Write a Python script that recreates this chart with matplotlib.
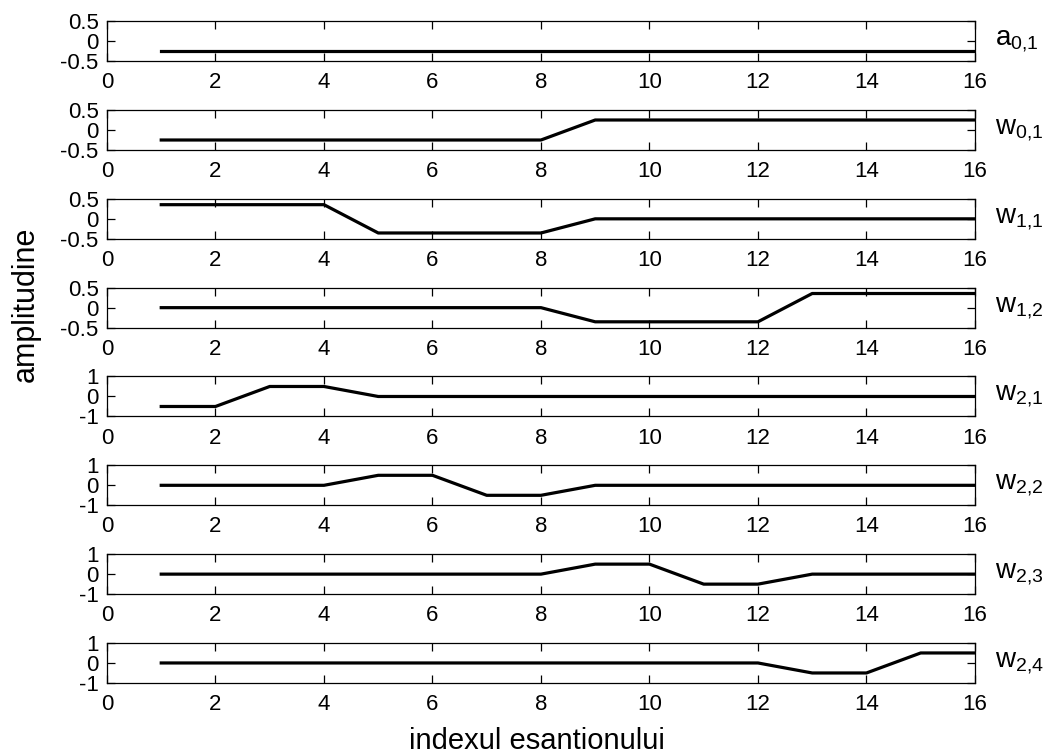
import numpy as np
import matplotlib
matplotlib.use("Agg")
from matplotlib import pyplot as plt

plt.rcParams['font.family'] = ['Liberation Sans', 'DejaVu Sans']
plt.rcParams['mathtext.default'] = 'regular'

# Haar basis vectors on 16 samples
n = np.arange(1, 17)
c0 = 0.25
c1 = 0.3536
c2 = 0.5
a01 = [-c0] * 16
w01 = [-c0] * 8 + [c0] * 8
w11 = [c1] * 4 + [-c1] * 4 + [0] * 8
w12 = [0] * 8 + [-c1] * 4 + [c1] * 4
w21 = [-c2] * 2 + [c2] * 2 + [0] * 12
w22 = [0] * 4 + [c2] * 2 + [-c2] * 2 + [0] * 8
w23 = [0] * 8 + [c2] * 2 + [-c2] * 2 + [0] * 4
w24 = [0] * 12 + [-c2] * 2 + [c2] * 2

signals = [a01, w01, w11, w12, w21, w22, w23, w24]
names = ['a', 'w', 'w', 'w', 'w', 'w', 'w', 'w']
subs = ['0{,}1', '0{,}1', '1{,}1', '1{,}2', '2{,}1', '2{,}2', '2{,}3', '2{,}4']
ylims = [0.5, 0.5, 0.5, 0.5, 1, 1, 1, 1]

fig, axes = plt.subplots(8, 1, figsize=(10.54, 7.56), dpi=100)
fig.subplots_adjust(left=0.1015, right=0.925, top=0.972, bottom=0.0966, hspace=1.22)

for ax, y, nm, sb, lim in zip(axes, signals, names, subs, ylims):
    ax.plot(n, y, color='black', linewidth=2.3)
    ax.set_xlim(0, 16)
    ax.set_ylim(-lim, lim)
    ax.set_xticks(np.arange(0, 17, 2))
    if lim == 1:
        ax.set_yticks([-1, 0, 1])
        ax.set_yticklabels(['-1', '0', '1'])
    else:
        ax.set_yticks([-0.5, 0, 0.5])
        ax.set_yticklabels(['-0.5', '0', '0.5'])
    ax.tick_params(direction='in', length=6, width=0.9, top=True, right=True,
                   labelsize=16)
    ax.tick_params(axis='x', pad=8)
    ax.tick_params(axis='y', pad=6)
    for s in ax.spines.values():
        s.set_linewidth(0.9)
    ax.text(1.023, 0.5, nm + '$_{' + sb + '}$', transform=ax.transAxes,
            fontsize=20, va='center', ha='left')

fig.text(537 / 1054, 1 - 749 / 756, 'indexul esantionului', fontsize=21,
         ha='center', va='baseline')
fig.text(26 / 1054, 1 - 304 / 756, 'amplitudine', fontsize=22,
         ha='center', va='center', rotation=90)

fig.savefig('out.png', dpi=100)
